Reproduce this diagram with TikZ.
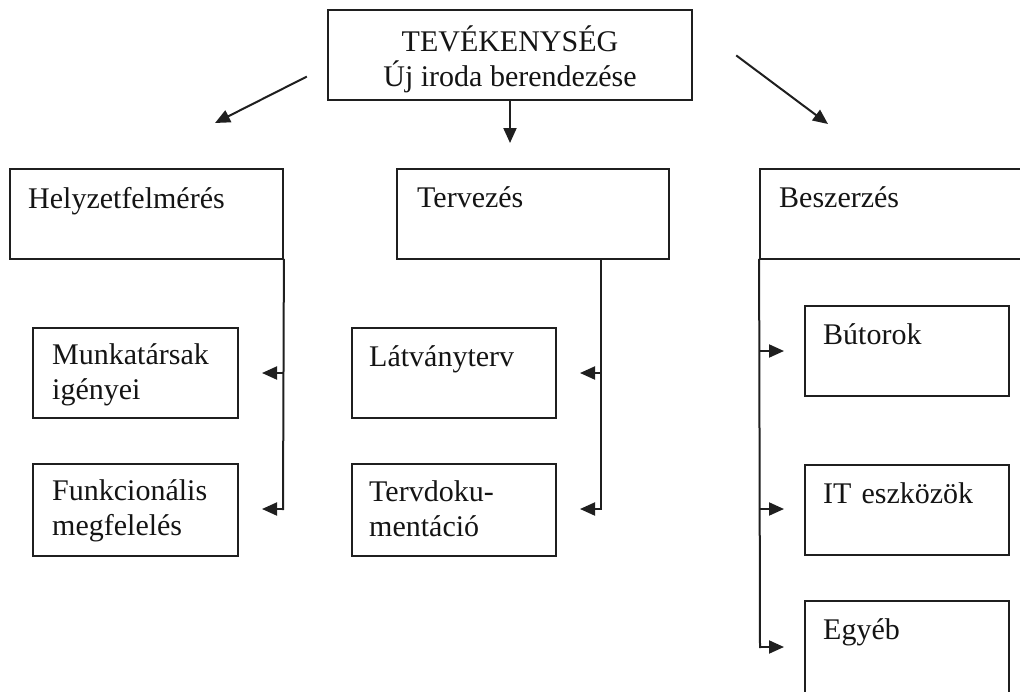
\documentclass[tikz,border=0pt]{standalone}
\usepackage{fontspec}
\setmainfont{Liberation Serif}
\usetikzlibrary{fit,arrows.meta}
\begin{document}
\begin{tikzpicture}[x=1pt,y=-1pt,
  box/.style={draw=black!88, line width=1.8pt, inner sep=0pt},
  lbl/.style={anchor=base west, inner sep=0pt, align=left, text width=200pt,
              font=\fontsize{30}{35}\selectfont, text=black!92},
  ctr/.style={anchor=base, inner sep=0pt, font=\fontsize{30}{35}\selectfont, text=black!92},
  conn/.style={draw=black!88, line width=2pt, line cap=rect},
  arr/.style={conn, -{Triangle[length=15pt,width=13pt]}}]
\useasboundingbox (0,0) rectangle (1020,691);
\clip (0,0) rectangle (1020,691);

% top box
\node[box, fit={(328,10) (692,100)}] (top) {};
\node[ctr] (topA) at (510,51) {TEVÉKENYSÉG};
\node[ctr] (topB) at (510,86) {Új iroda berendezése};

% level 2 boxes
\node[box, fit={(10,169) (283,259)}] (helyz) {};
\node[lbl] (helyzT) at (28,208) {Helyzetfelmérés};
\node[box, fit={(397,169) (669,259)}] (terv) {};
\node[lbl] (tervT) at (417,207) {Tervezés};
\node[box, fit={(760,169) (1030,259)}] (besz) {};
\node[lbl] (beszT) at (779,207) {Beszerzés};

% level 3 boxes
\node[box, fit={(33,328) (238,418)}] (munk) {};
\node[lbl] (munkT) at (52,364) {Munkatársak\\igényei};
\node[box, fit={(33,464) (238,556)}] (funk) {};
\node[lbl] (funkT) at (52,500) {Funkcionális\\megfelelés};
\node[box, fit={(352,328) (556,418)}] (latv) {};
\node[lbl] (latvT) at (369,366) {Látványterv};
\node[box, fit={(352,464) (556,556)}] (tdok) {};
\node[lbl] (tdokT) at (369,501) {Tervdoku-\\mentáció};
\node[box, fit={(805,306) (1009,396)}] (buto) {};
\node[lbl] (butoT) at (823,344) {Bútorok};
\node[box, fit={(805,465) (1009,555)}] (iteq) {};
\node[lbl] (iteqT) at (823,503) {IT eszközök};
\node[box, fit={(805,601) (1009,700)}] (egyb) {};
\node[lbl] (egybT) at (823,639) {Egyéb};

% arrows from top box
\coordinate (la0) at (306,77);
\coordinate (la1) at (215,123);
\coordinate (ma1) at (510,143);
\coordinate (ra0) at (737,56);
\coordinate (ra1) at (828,124);
\draw[arr] (la0) -- (la1);
\draw[arr] (top.south) -- (ma1);
\draw[arr] (ra0) -- (ra1);

% Helyzetfelmérés branch
\coordinate (h1) at (283,373);
\coordinate (h1e) at (262,373);
\coordinate (h2) at (283,509);
\coordinate (h2e) at (262,509);
\draw[conn] (helyz.south east) -- (h2);
\draw[arr] (h1) -- (h1e);
\draw[arr] (h2) -- (h2e);

% Tervezés branch
\coordinate (t0) at (601,259);
\coordinate (t1) at (601,373);
\coordinate (t1e) at (580,373);
\coordinate (t2) at (601,509);
\coordinate (t2e) at (580,509);
\draw[conn] (t0) -- (t2);
\draw[arr] (t1) -- (t1e);
\draw[arr] (t2) -- (t2e);

% Beszerzés branch
\coordinate (b1) at (760,351);
\coordinate (b1e) at (784,351);
\coordinate (b2) at (760,509);
\coordinate (b2e) at (784,509);
\coordinate (b3) at (760,647);
\coordinate (b3e) at (784,647);
\draw[conn] (besz.south west) -- (b3);
\draw[arr] (b1) -- (b1e);
\draw[arr] (b2) -- (b2e);
\draw[arr] (b3) -- (b3e);
\end{tikzpicture}
\end{document}
